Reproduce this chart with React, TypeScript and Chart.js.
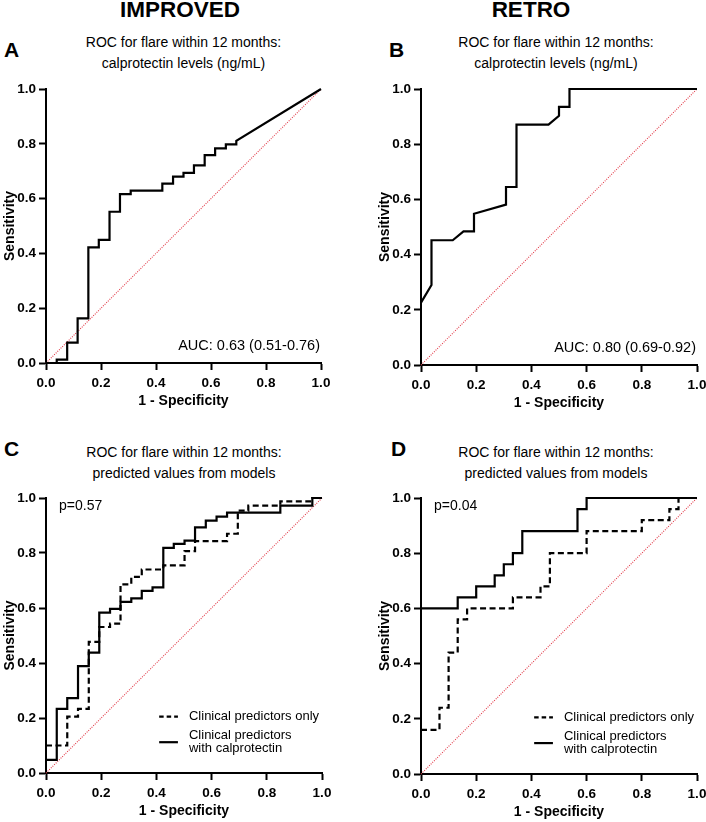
import React, { useEffect, useRef } from 'react';
import { Chart, registerables } from 'chart.js';

Chart.register(...registerables);

const FONT = "'Liberation Sans', Arial, Helvetica, sans-serif";

// ---------- DATA ----------
const tickValues = [0, 0.2, 0.4, 0.6, 0.8, 1.0];
const xAxisTitle = '1 - Specificity';
const yAxisTitle = 'Sensitivity';

const groupTitles = ['IMPROVED', 'RETRO'];
const panelLetters = ['A', 'B', 'C', 'D'];
const subtitleTop = ['ROC for flare within 12 months:', 'calprotectin levels (ng/mL)'];
const subtitleBottom = ['ROC for flare within 12 months:', 'predicted values from models'];

// Panel A: IMPROVED, calprotectin
const improvedCalFpr = [0, 0.039, 0.039, 0.077, 0.077, 0.115, 0.115, 0.154, 0.154, 0.192, 0.192, 0.231, 0.231, 0.269, 0.269, 0.308, 0.308, 0.423, 0.423, 0.462, 0.462, 0.5, 0.5, 0.538, 0.538, 0.577, 0.577, 0.615, 0.615, 0.654, 0.654, 0.692, 0.692, 1];
const improvedCalTpr = [0, 0, 0.012, 0.012, 0.074, 0.074, 0.163, 0.163, 0.422, 0.422, 0.449, 0.449, 0.552, 0.552, 0.616, 0.616, 0.629, 0.629, 0.655, 0.655, 0.68, 0.68, 0.694, 0.694, 0.721, 0.721, 0.759, 0.759, 0.783, 0.783, 0.798, 0.798, 0.811, 1];
const improvedAuc = 'AUC: 0.63 (0.51-0.76)';

// Panel B: RETRO, calprotectin
const retroCalFpr = [0, 0.038, 0.038, 0.115, 0.154, 0.192, 0.192, 0.308, 0.308, 0.346, 0.346, 0.462, 0.5, 0.5, 0.538, 0.538, 1];
const retroCalTpr = [0.226, 0.29, 0.452, 0.452, 0.484, 0.484, 0.548, 0.581, 0.645, 0.645, 0.871, 0.871, 0.903, 0.935, 0.935, 1, 1];
const retroAuc = 'AUC: 0.80 (0.69-0.92)';

// Panel C: IMPROVED, models
const improvedClinFpr = [0, 0.077, 0.077, 0.116, 0.116, 0.155, 0.155, 0.193, 0.193, 0.232, 0.232, 0.27, 0.27, 0.309, 0.309, 0.347, 0.347, 0.425, 0.425, 0.502, 0.502, 0.54, 0.54, 0.656, 0.656, 0.695, 0.695, 0.733, 0.733, 0.849, 0.849, 0.965, 0.965, 1];
const improvedClinTpr = [0.1, 0.1, 0.205, 0.205, 0.233, 0.233, 0.477, 0.477, 0.531, 0.531, 0.543, 0.543, 0.686, 0.686, 0.713, 0.713, 0.74, 0.74, 0.755, 0.755, 0.807, 0.807, 0.843, 0.843, 0.87, 0.87, 0.954, 0.954, 0.972, 0.972, 0.988, 0.988, 1, 1];
const improvedClinCalFpr = [0, 0.039, 0.039, 0.077, 0.077, 0.116, 0.116, 0.155, 0.155, 0.193, 0.193, 0.232, 0.232, 0.27, 0.27, 0.309, 0.309, 0.347, 0.347, 0.386, 0.386, 0.425, 0.425, 0.463, 0.463, 0.502, 0.502, 0.54, 0.54, 0.579, 0.579, 0.618, 0.618, 0.656, 0.656, 0.849, 0.849, 0.965, 0.965, 1];
const improvedClinCalTpr = [0.048, 0.048, 0.233, 0.233, 0.272, 0.272, 0.389, 0.389, 0.438, 0.438, 0.583, 0.583, 0.597, 0.597, 0.622, 0.622, 0.635, 0.635, 0.662, 0.662, 0.675, 0.675, 0.819, 0.819, 0.833, 0.833, 0.845, 0.845, 0.893, 0.893, 0.918, 0.918, 0.932, 0.932, 0.947, 0.947, 0.972, 0.972, 1, 1];
const improvedP = 'p=0.57';

// Panel D: RETRO, models
const retroClinFpr = [0, 0.067, 0.067, 0.1, 0.1, 0.133, 0.133, 0.167, 0.167, 0.333, 0.333, 0.433, 0.433, 0.467, 0.467, 0.6, 0.6, 0.8, 0.8, 0.9, 0.9, 0.933, 0.933, 1];
const retroClinTpr = [0.16, 0.16, 0.24, 0.24, 0.44, 0.44, 0.56, 0.56, 0.6, 0.6, 0.64, 0.64, 0.68, 0.68, 0.8, 0.8, 0.88, 0.88, 0.92, 0.92, 0.96, 0.96, 1, 1];
const retroClinCalFpr = [0, 0.133, 0.133, 0.2, 0.2, 0.267, 0.267, 0.3, 0.3, 0.333, 0.333, 0.367, 0.367, 0.567, 0.567, 0.6, 0.6, 1];
const retroClinCalTpr = [0.6, 0.6, 0.64, 0.64, 0.68, 0.68, 0.72, 0.72, 0.76, 0.76, 0.8, 0.8, 0.88, 0.88, 0.96, 0.96, 1, 1];
const retroP = 'p=0.04';

// Reference diagonal
const chanceFpr = [0, 1];
const chanceTpr = [0, 1];

// Legend
const legendLabels = [['Clinical predictors only'], ['Clinical predictors', 'with calprotectin']];
const legendDashed = [true, false];
const legendY = [0.205, 0.112];
const legendLineX = [0.41, 0.478];
const legendTextX = 0.518;

// ---------- helpers ----------
const zip = (xs: number[], ys: number[]) => xs.map((x, i) => ({ x, y: ys[i] }));

const curve = (xs: number[], ys: number[], dashed: boolean) => ({
  data: zip(xs, ys),
  showLine: true,
  borderColor: '#000',
  borderWidth: 2.2,
  borderDash: dashed ? [6, 3.5] : [],
  borderCapStyle: 'butt',
  borderJoinStyle: 'miter',
  pointRadius: 0,
  pointHoverRadius: 0,
  tension: 0,
  clip: false,
  fill: false,
});

const chance = () => ({
  data: zip(chanceFpr, chanceTpr),
  showLine: true,
  borderColor: '#e23a48',
  borderWidth: 1.1,
  borderDash: [1, 1.3],
  pointRadius: 0,
  pointHoverRadius: 0,
  tension: 0,
  clip: false,
  fill: false,
});

const annotPlugin = {
  id: 'annot',
  afterDatasetsDraw(chart: any, _args: any, opts: any) {
    const { ctx, chartArea, scales } = chart;
    ctx.save();
    ctx.fillStyle = '#000';
    if (opts.auc) {
      ctx.font = `14.5px ${FONT}`;
      ctx.textAlign = 'right';
      ctx.textBaseline = 'alphabetic';
      ctx.fillText(opts.auc, chartArea.right - 1, chartArea.bottom - 13);
    }
    if (opts.p) {
      ctx.font = `14px ${FONT}`;
      ctx.textAlign = 'left';
      ctx.textBaseline = 'alphabetic';
      ctx.fillText(opts.p, chartArea.left + 13, chartArea.top + 12);
    }
    if (opts.legend) {
      const xs = scales.x;
      const ys = scales.y;
      legendLabels.forEach((lines, i) => {
        const y = ys.getPixelForValue(legendY[i]);
        ctx.beginPath();
        ctx.lineWidth = 2.2;
        ctx.strokeStyle = '#000';
        ctx.setLineDash(legendDashed[i] ? [4.5, 3] : []);
        ctx.moveTo(xs.getPixelForValue(legendLineX[0]), y);
        ctx.lineTo(xs.getPixelForValue(legendLineX[1]), y);
        ctx.stroke();
        ctx.setLineDash([]);
        ctx.font = `13px ${FONT}`;
        ctx.textAlign = 'left';
        ctx.textBaseline = 'middle';
        const lh = 13.3;
        const start = y - ((lines.length - 1) * lh) / 2;
        lines.forEach((t, j) => ctx.fillText(t, xs.getPixelForValue(legendTextX), start + j * lh));
      });
    }
    ctx.restore();
  },
};

type PanelSpec = {
  canvasLeft: number;
  canvasTop: number;
  width: number;
  height: number;
  plotLeft: number;
  plotTop: number;
  plotRight: number;
  plotBottom: number;
  datasets: any[];
  annot: any;
};

function buildConfig(p: PanelSpec): any {
  const yWidth = p.plotLeft - p.canvasLeft;
  const xHeight = p.canvasTop + p.height - p.plotBottom;
  const tickFont = { family: FONT, size: 13.5, weight: 'bold' as const };
  const titleFont = { family: FONT, size: 14, weight: 'bold' as const };
  const common = {
    type: 'linear',
    min: 0,
    max: 1,
    afterBuildTicks: (s: any) => {
      s.ticks = tickValues.map((v) => ({ value: v }));
    },
    ticks: {
      color: '#000',
      font: tickFont,
      autoSkip: false,
      maxRotation: 0,
      callback: (v: any) => Number(v).toFixed(1),
    },
    grid: {
      display: true,
      drawOnChartArea: false,
      drawTicks: true,
      tickLength: 7,
      tickWidth: 2,
      tickColor: '#000',
      color: '#000',
    },
    border: { display: true, color: '#000', width: 2 },
  };
  return {
    type: 'scatter',
    data: { datasets: p.datasets },
    options: {
      responsive: false,
      maintainAspectRatio: false,
      animation: false,
      devicePixelRatio: 1,
      events: [],
      layout: {
        padding: { top: p.plotTop - p.canvasTop, right: p.canvasLeft + p.width - p.plotRight, left: 0, bottom: 0 },
      },
      plugins: {
        legend: { display: false },
        tooltip: { enabled: false },
        title: { display: false },
        annot: p.annot,
      },
      scales: {
        x: {
          ...common,
          position: 'bottom',
          ticks: { ...common.ticks, padding: 5 },
          title: { display: true, text: xAxisTitle, color: '#000', font: titleFont, padding: { top: 0, bottom: 1 } },
          afterFit: (s: any) => {
            s.height = xHeight;
            s.paddingLeft = 0;
            s.paddingRight = 0;
          },
        },
        y: {
          ...common,
          position: 'left',
          ticks: { ...common.ticks, padding: 3 },
          title: { display: true, text: yAxisTitle, color: '#000', font: titleFont, padding: { top: 2, bottom: 0 } },
          afterFit: (s: any) => {
            s.width = yWidth;
            s.paddingTop = 0;
            s.paddingBottom = 0;
          },
        },
      },
    },
    plugins: [annotPlugin],
  };
}

const panels: PanelSpec[] = [
  {
    canvasLeft: 0, canvasTop: 78, width: 352, height: 333,
    plotLeft: 46, plotTop: 89, plotRight: 321, plotBottom: 363,
    datasets: [curve(improvedCalFpr, improvedCalTpr, false), chance()],
    annot: { auc: improvedAuc },
  },
  {
    canvasLeft: 375, canvasTop: 78, width: 331, height: 335,
    plotLeft: 421, plotTop: 89, plotRight: 697, plotBottom: 365,
    datasets: [curve(retroCalFpr, retroCalTpr, false), chance()],
    annot: { auc: retroAuc },
  },
  {
    canvasLeft: 0, canvasTop: 487, width: 352, height: 334,
    plotLeft: 46, plotTop: 498, plotRight: 322, plotBottom: 773,
    datasets: [curve(improvedClinFpr, improvedClinTpr, true), curve(improvedClinCalFpr, improvedClinCalTpr, false), chance()],
    annot: { p: improvedP, legend: true },
  },
  {
    canvasLeft: 375, canvasTop: 487, width: 331, height: 335,
    plotLeft: 421, plotTop: 498, plotRight: 697, plotBottom: 774,
    datasets: [curve(retroClinFpr, retroClinTpr, true), curve(retroClinCalFpr, retroClinCalTpr, false), chance()],
    annot: { p: retroP, legend: true },
  },
];

function RocChart({ spec }: { spec: PanelSpec }) {
  const ref = useRef<HTMLCanvasElement | null>(null);
  useEffect(() => {
    if (!ref.current) return;
    const chart = new Chart(ref.current, buildConfig(spec));
    return () => chart.destroy();
  }, [spec]);
  return (
    <canvas
      ref={ref}
      width={spec.width}
      height={spec.height}
      style={{ position: 'absolute', left: spec.canvasLeft, top: spec.canvasTop, width: spec.width, height: spec.height }}
    />
  );
}

const textBase: React.CSSProperties = { position: 'absolute', fontFamily: FONT, color: '#000', whiteSpace: 'nowrap' };

export default function App() {
  return (
    <div style={{ position: 'absolute', left: 0, top: 0, width: 706, height: 822, overflow: 'hidden', background: '#fff' }}>
      {/* group headers */}
      <div style={{ ...textBase, left: 30, top: -1, width: 300, textAlign: 'center', fontSize: 22.5, lineHeight: '22px', fontWeight: 'bold' }}>{groupTitles[0]}</div>
      <div style={{ ...textBase, left: 381, top: -1, width: 300, textAlign: 'center', fontSize: 22.5, lineHeight: '22px', fontWeight: 'bold' }}>{groupTitles[1]}</div>
      {/* panel letters */}
      <div style={{ ...textBase, left: 4, top: 39, fontSize: 21, lineHeight: '21px', fontWeight: 'bold' }}>{panelLetters[0]}</div>
      <div style={{ ...textBase, left: 389, top: 39, fontSize: 21, lineHeight: '21px', fontWeight: 'bold' }}>{panelLetters[1]}</div>
      <div style={{ ...textBase, left: 4, top: 438, fontSize: 21, lineHeight: '21px', fontWeight: 'bold' }}>{panelLetters[2]}</div>
      <div style={{ ...textBase, left: 391, top: 438, fontSize: 21, lineHeight: '21px', fontWeight: 'bold' }}>{panelLetters[3]}</div>
      {/* subtitles */}
      <div style={{ ...textBase, left: 33.5, top: 32, width: 300, textAlign: 'center', fontSize: 14, lineHeight: '21px' }}>
        {subtitleTop[0]}<br />{subtitleTop[1]}
      </div>
      <div style={{ ...textBase, left: 406, top: 32, width: 300, textAlign: 'center', fontSize: 14, lineHeight: '21px' }}>
        {subtitleTop[0]}<br />{subtitleTop[1]}
      </div>
      <div style={{ ...textBase, left: 34, top: 442, width: 300, textAlign: 'center', fontSize: 14, lineHeight: '21px' }}>
        {subtitleBottom[0]}<br />{subtitleBottom[1]}
      </div>
      <div style={{ ...textBase, left: 406, top: 442, width: 300, textAlign: 'center', fontSize: 14, lineHeight: '21px' }}>
        {subtitleBottom[0]}<br />{subtitleBottom[1]}
      </div>
      {panels.map((p, i) => (
        <RocChart key={i} spec={p} />
      ))}
    </div>
  );
}
